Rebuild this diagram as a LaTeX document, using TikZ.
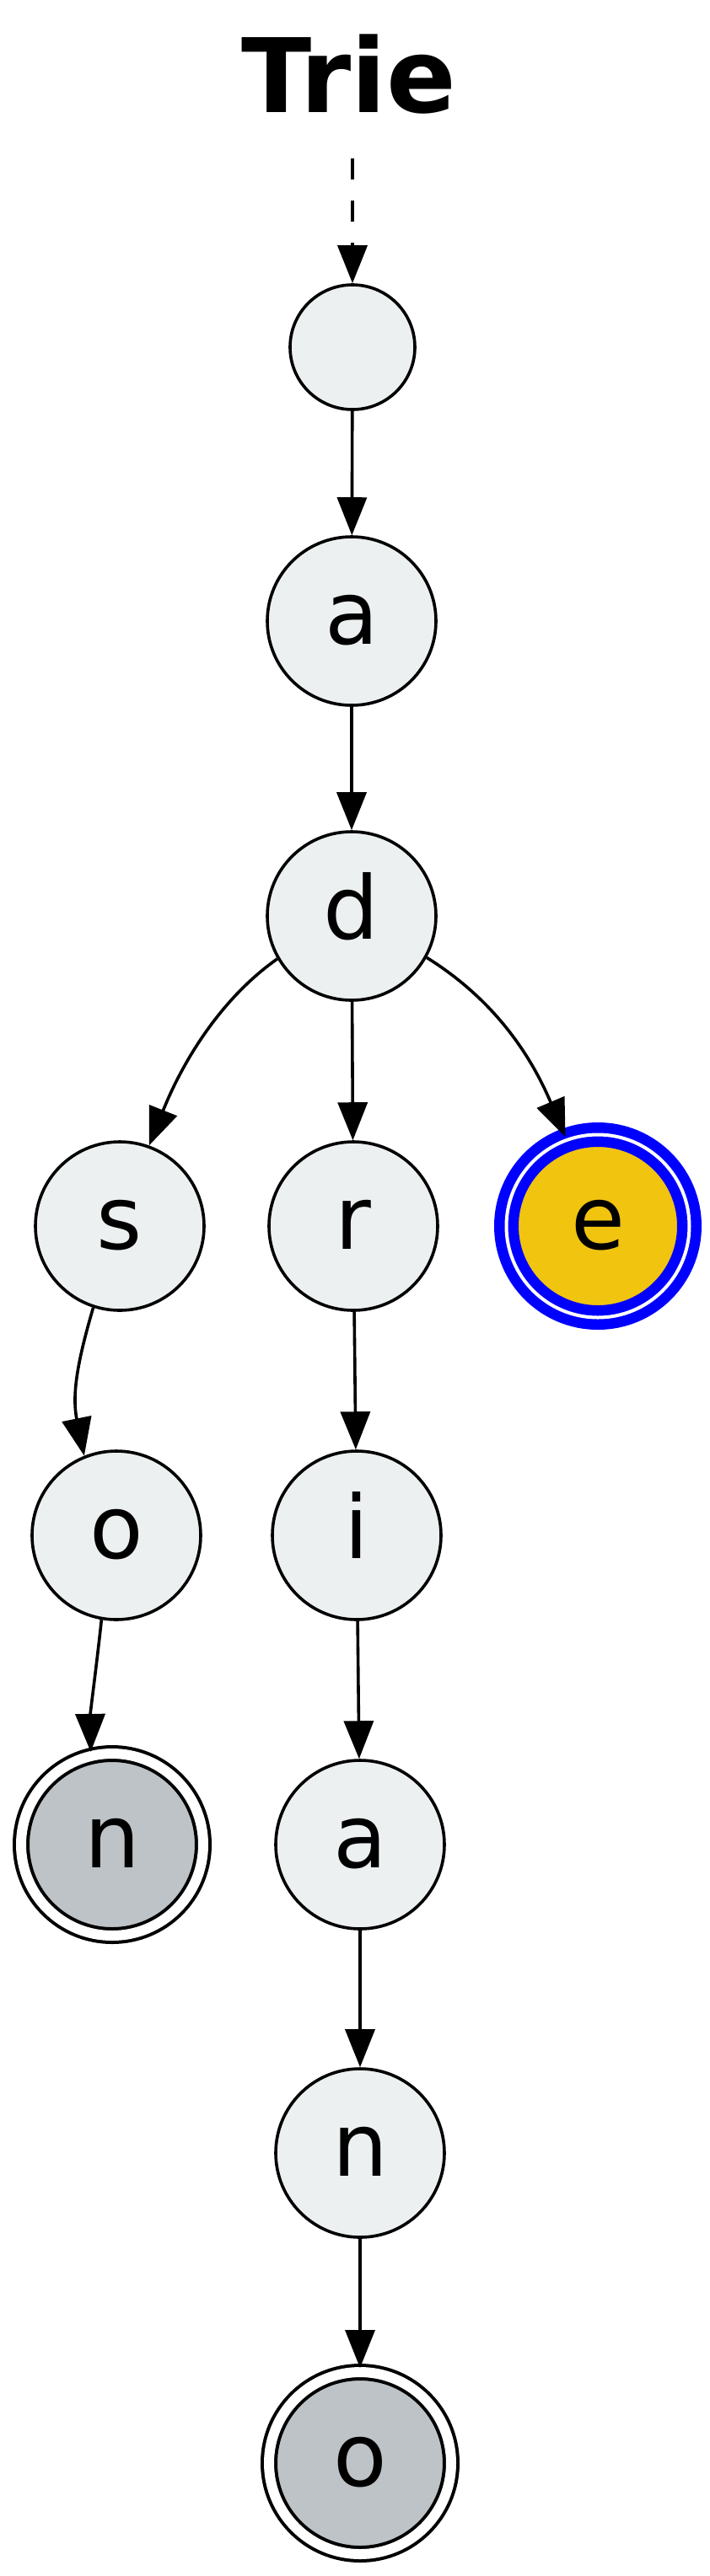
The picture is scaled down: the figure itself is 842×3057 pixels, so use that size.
\documentclass[tikz,border=0pt]{standalone}
\usepackage{fontspec}
\setmainfont{DejaVu Sans}
\usetikzlibrary{arrows.meta}
\definecolor{nodefill}{HTML}{ECF0F1}
\definecolor{leaffill}{HTML}{BDC3C7}
\definecolor{sunfill}{HTML}{F1C40F}
\begin{document}
\begin{tikzpicture}[x=1pt,y=-1pt,
  trienode/.style={circle, draw=black, line width=3.6pt, fill=nodefill,
    minimum size=200pt, inner sep=0pt, text height=80pt, text depth=25pt,
    font=\fontsize{104}{110}\selectfont},
  rootnode/.style={trienode, minimum size=148pt},
  endnode/.style={trienode, fill=leaffill, double=white, double distance=12pt,
    line width=4pt, minimum size=216pt, outer sep=5pt},
  hitnode/.style={trienode, fill=sunfill, draw=blue, double=white,
    double distance=4pt, line width=12.5pt, minimum size=217pt, outer sep=4pt},
  edge/.style={line width=3.6pt, -{Triangle[length=45pt,width=35pt]}},
  titletext/.style={font=\fontsize{122}{130}\selectfont\bfseries, anchor=base, inner sep=0pt},
]
\useasboundingbox (0,0) rectangle (842,3057);
\node[titletext] (title) at (414,133) {Trie};
\coordinate (start) at (418,188);
\node[rootnode] (root) at (418,412) {};
\node[trienode] (a)  at (417,737)  {a};
\node[trienode] (d)  at (417,1087) {d};
\node[trienode] (s)  at (142,1455) {s};
\node[trienode] (r)  at (419,1455) {r};
\node[hitnode]  (e)  at (709,1455) {e};
\node[trienode] (o)  at (138,1822) {o};
\node[trienode] (i)  at (423,1822) {i};
\node[endnode]  (nl) at (133,2189) {n};
\node[trienode] (a2) at (427,2189) {a};
\node[trienode] (n2) at (427,2555) {n};
\node[endnode]  (o2) at (427,2923) {o};

\draw[edge, dash pattern=on 25pt off 25pt] (start) -- (root);
\draw[edge] (root) -- (a);
\draw[edge] (a) -- (d);
\draw[edge] (d.210.9) .. controls (262,1185) and (217,1259) .. (s.70.7);
\draw[edge] (d) -- (r);
\draw[edge] (d.331.2) .. controls (584,1185) and (628,1249) .. (e.110.4);
\draw[edge] (s.252.4) .. controls (93.6,1610) and (84.6,1652.6) .. (o.112.7);
\draw[edge] (r) -- (i);
\draw[edge] (o.260.7) .. controls (115.7,1966.5) and (107,2033) .. (nl.103.2);
\draw[edge] (i) -- (a2);
\draw[edge] (a2) -- (n2);
\draw[edge] (n2) -- (o2);
\end{tikzpicture}
\end{document}
